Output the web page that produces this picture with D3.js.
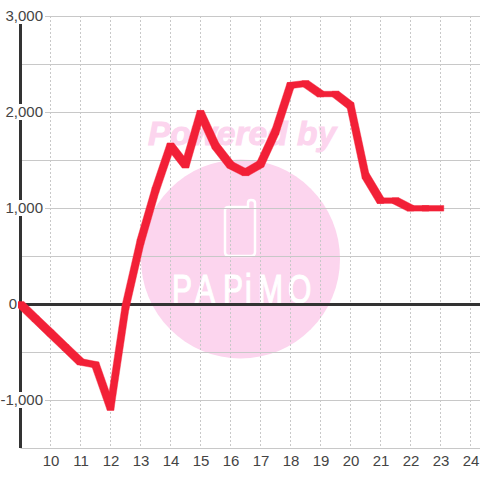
<!DOCTYPE html>
<html>
<head>
<meta charset="utf-8">
<script src="https://cdn.jsdelivr.net/npm/d3@7"></script>
<style>
html, body { margin: 0; padding: 0; background: #fff; }
svg { display: block; font-family: "Liberation Sans", Arial, sans-serif; }
</style>
</head>
<body>
<div id="chart"></div>
<script>
var hours = [9, 9.5, 10, 10.5, 11, 11.5, 12, 12.5, 13, 13.5, 14, 14.5, 15, 15.5, 16, 16.5,
    17, 17.5, 18, 18.5, 19, 19.5, 20, 20.5, 21, 21.5, 22, 22.5, 23];
var values = [0, -150, -300, -450, -600, -630, -1075, -30, 650, 1190, 1650, 1450, 1990, 1650, 1450, 1370,
    1460, 1800, 2280, 2300, 2190, 2190, 2070, 1340, 1080, 1080, 1000, 1000, 1000];
var xTicks = [10, 11, 12, 13, 14, 15, 16, 17, 18, 19, 20, 21, 22, 23, 24];
var yGrid = [-1500, -1000, -500, 500, 1000, 1500, 2000, 2500, 3000];
var yLabels = [-1000, 0, 1000, 2000, 3000];

var width = 480;
var height = 480;

var x = d3.scaleLinear().domain([9, 25]).range([20.5, 500.5]);
var y = d3.scaleLinear().domain([-1500, 3000]).range([448, 16]);

var svg = d3.select("#chart")
    .append("svg")
    .attr("width", width)
    .attr("height", height);

// watermark goes under the grid
var mark = svg.append("g");
mark.append("circle")
    .attr("cx", 240.5)
    .attr("cy", 259)
    .attr("r", 99.5)
    .attr("fill", "#fcd5ee");
mark.append("text")
    .attr("x", 242)
    .attr("y", 145)
    .attr("text-anchor", "middle")
    .attr("font-size", 33.5)
    .attr("font-weight", "bold")
    .attr("font-style", "italic")
    .attr("fill", "#fcd5ee")
    .attr("stroke", "#fcd5ee")
    .attr("stroke-width", 1)
    .text("Powered by");
mark.append("path")
    .attr("d", "M229 207 H248 V203 Q248 200 251 200 Q255 200 255 203 V252 Q255 256 251 256 H229 Q225 256 225 252 V210 Q225 207 229 207 Z")
    .attr("fill", "none")
    .attr("stroke", "#fff")
    .attr("stroke-width", 2.5);
// logo letters are tall and narrow, so squeeze the font and place each one
mark.append("text")
    .attr("transform", "scale(0.75,1)")
    .attr("x", [172, 195, 223, 245, 258, 288].map(function (d) { return d / 0.75; }).join(" "))
    .attr("y", 303)
    .attr("font-size", 40)
    .attr("fill", "#fff")
    .attr("stroke", "#fff")
    .attr("stroke-width", 1.2)
    .text("PAPiMO");

var grid = svg.append("g");
grid.selectAll(".h")
    .data(yGrid)
    .enter()
    .append("line")
    .attr("x1", x(9))
    .attr("x2", width)
    .attr("y1", function (d) { return y(d) + 0.5; })
    .attr("y2", function (d) { return y(d) + 0.5; })
    .attr("stroke", "#c8c8c8");
grid.selectAll(".v")
    .data(xTicks)
    .enter()
    .append("line")
    .attr("x1", function (d) { return x(d); })
    .attr("x2", function (d) { return x(d); })
    .attr("y1", y(3000))
    .attr("y2", y(-1500))
    .attr("stroke", "#c8c8c8")
    .attr("stroke-dasharray", "2,2");

// axis lines
svg.append("line")
    .attr("x1", x(9))
    .attr("x2", x(9))
    .attr("y1", y(3000))
    .attr("y2", y(-1500))
    .attr("stroke", "#333")
    .attr("stroke-width", 3);
svg.append("line")
    .attr("x1", x(9))
    .attr("x2", width)
    .attr("y1", y(0) + 0.5)
    .attr("y2", y(0) + 0.5)
    .attr("stroke", "#333")
    .attr("stroke-width", 3);

// the original line is drawn with a flat 7x6 pen: thicker on diagonals than
// on flat runs, which a normal stroke can't do, so sweep the pen per segment
var penW = 3.3;
var penH = 2.8;

function segment_shape(d, i) {
    var corners = [];
    [[hours[i], d], [hours[i + 1], values[i + 1]]].forEach(function (p) {
        [-penW, penW].forEach(function (dx) {
            [-penH, penH].forEach(function (dy) {
                corners.push([x(p[0]) + dx, y(p[1]) + 0.3 + dy]);
            });
        });
    });
    return "M" + d3.polygonHull(corners).join("L") + "Z";
}

svg.selectAll(".seg")
    .data(values.slice(0, -1))
    .enter()
    .append("path")
    .attr("d", segment_shape)
    .attr("fill", "#f22037")
    .attr("stroke", "#f22037")
    .attr("stroke-width", 0.4);

// labels sit on a white box that cuts the axis
var yLab = svg.selectAll(".ylab")
    .data(yLabels)
    .enter()
    .append("g");
yLab.append("rect")
    .attr("x", 0)
    .attr("y", function (d) { return y(d) - 8; })
    .attr("width", function (d) { return d === 0 ? 18 : 45; })
    .attr("height", 16)
    .attr("fill", "#fff");
yLab.append("text")
    .attr("x", function (d) { return d === 0 ? 17 : 43; })
    .attr("y", function (d) { return y(d) + 5; })
    .attr("text-anchor", "end")
    .attr("font-size", 15)
    .attr("fill", "#444")
    .text(function (d) { return d3.format(",")(d).replace("−", "-"); });

svg.selectAll(".xlab")
    .data(xTicks)
    .enter()
    .append("text")
    .attr("x", function (d) { return x(d) + 0.5; })
    .attr("y", 466)
    .attr("text-anchor", "middle")
    .attr("font-size", 15)
    .attr("fill", "#444")
    .text(function (d) { return d; });
</script>
</body>
</html>
